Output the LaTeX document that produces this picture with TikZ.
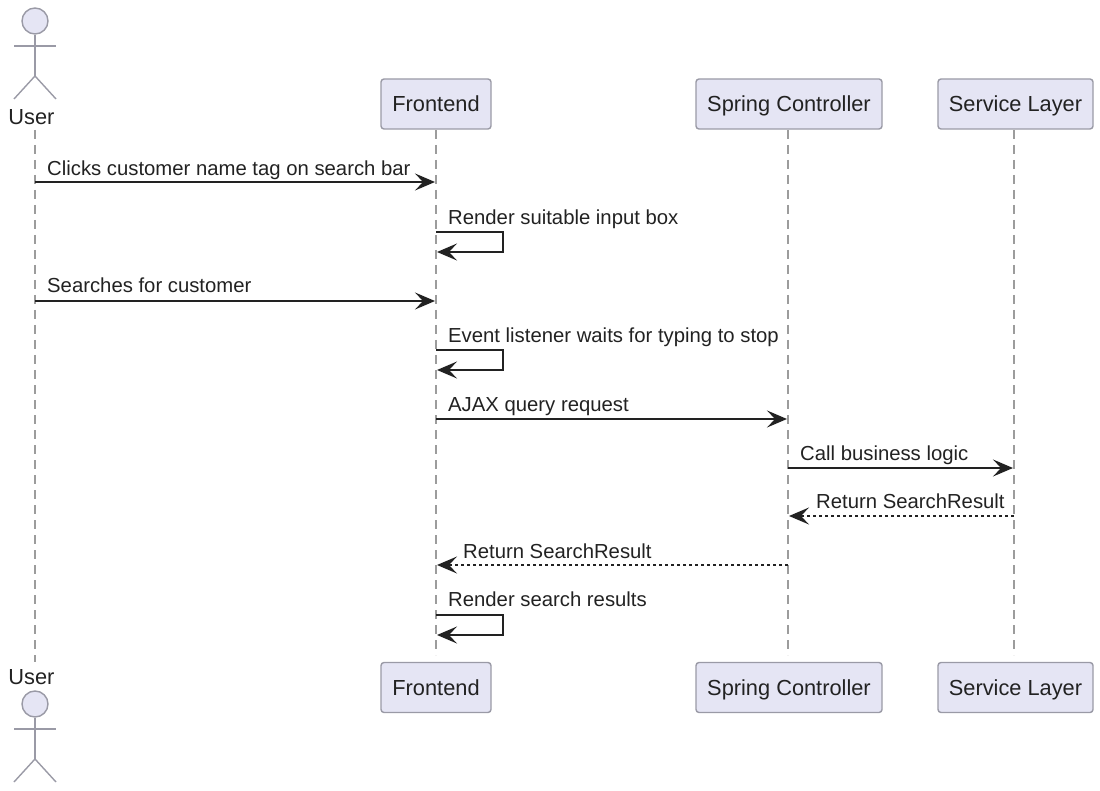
\documentclass[tikz,border=0pt]{standalone}
\usepackage{fontspec}
\setmainfont{Liberation Sans}
\usetikzlibrary{arrows.meta}
\definecolor{boxfill}{HTML}{E5E5F4}
\definecolor{boxline}{HTML}{9A9AA6}
\definecolor{lifeline}{HTML}{9C9C9C}
\definecolor{ink}{HTML}{222222}
\tikzset{
  box/.style={draw=boxline,fill=boxfill,line width=1.4pt,rounded corners=3pt,inner sep=0pt,text=ink,text height=20pt,text depth=4pt,font=\fontsize{21.8}{24}\selectfont},
  lbl/.style={anchor=base west,inner sep=0pt,text=ink,font=\fontsize{20.3}{24}\selectfont},
  actorlbl/.style={inner sep=0pt,text=ink,font=\fontsize{21.8}{24}\selectfont},
  limb/.style={draw=boxline,line width=1.4pt},
  life/.style={draw=lifeline,line width=1.1pt,dash pattern=on 9pt off 6pt},
  msg/.style={draw=ink,line width=1.5pt,-{Stealth[length=20pt,width=17pt,inset=8pt]}},
  ret/.style={msg,line width=1.3pt,dash pattern=on 3pt off 3pt}
}
\begin{document}
\begin{tikzpicture}[x=1pt,y=-1pt]
        \useasboundingbox (0,0) rectangle (1100,791);
        % participants
        \draw (436,104) node[box,minimum width=110pt,minimum height=50pt] (F) {Frontend};
        \draw (789,104) node[box,minimum width=186pt,minimum height=50pt] (S) {Spring Controller};
        \draw (1015.5,104) node[box,minimum width=155pt,minimum height=50pt] (L) {Service Layer};
        \draw (436,687.5) node[box,minimum width=110pt,minimum height=50pt] (F2) {Frontend};
        \draw (789,687.5) node[box,minimum width=186pt,minimum height=50pt] (S2) {Spring Controller};
        \draw (1015.5,687.5) node[box,minimum width=155pt,minimum height=50pt] (L2) {Service Layer};
        % actor on top
        \draw (35,21) node[circle,draw=boxline,fill=boxfill,line width=1.4pt,minimum size=26pt,inner sep=0pt] (H) {};
        \coordinate (Hip) at (35,76);
        \coordinate (ArmL) at (14,46);
        \coordinate (ArmR) at (56,46);
        \coordinate (FootL) at (14,99);
        \coordinate (FootR) at (56,99);
        \draw[limb] (H)--(Hip);
        \draw[limb] (ArmL)--(ArmR);
        \draw[limb] (FootL)--(Hip)--(FootR);
        \draw (31.5,117.5) node[actorlbl] (U) {User};
        % actor below
        \draw (31.5,677.5) node[actorlbl] (U2) {User};
        \draw (35,704) node[circle,draw=boxline,fill=boxfill,line width=1.4pt,minimum size=26pt,inner sep=0pt] (H2) {};
        \coordinate (Hip2) at (35,759);
        \coordinate (ArmL2) at (14,729);
        \coordinate (ArmR2) at (56,729);
        \coordinate (FootL2) at (14,782);
        \coordinate (FootR2) at (56,782);
        \draw[limb] (H2)--(Hip2);
        \draw[limb] (ArmL2)--(ArmR2);
        \draw[limb] (FootL2)--(Hip2)--(FootR2);
        % lifelines
        \coordinate (Utop) at (35,130);
        \coordinate (Ubot) at (35,662);
        \draw[life] (Utop)--(Ubot);
        \coordinate (Ftop) at (436,130);
        \coordinate (Fbot) at (436,655);
        \draw[life] (Ftop)--(Fbot);
        \coordinate (Stop) at (788,130);
        \coordinate (Sbot) at (788,655);
        \draw[life] (Stop)--(Sbot);
        \coordinate (Ltop) at (1014,130);
        \coordinate (Lbot) at (1014,655);
        \draw[life] (Ltop)--(Lbot);
        % message ends
        \coordinate (u1) at (35,182);
        \coordinate (f1) at (435,182);
        \coordinate (f2) at (436,232);
        \coordinate (c2) at (503,232);
        \coordinate (d2) at (503,252);
        \coordinate (g2) at (437,252);
        \coordinate (u3) at (35,301);
        \coordinate (f3) at (435,301);
        \coordinate (f4) at (436,350);
        \coordinate (c4) at (503,350);
        \coordinate (d4) at (503,370);
        \coordinate (g4) at (437,370);
        \coordinate (f5) at (436,419);
        \coordinate (s5) at (787,419);
        \coordinate (s6) at (788,468);
        \coordinate (l6) at (1013,468);
        \coordinate (l7) at (1014,516);
        \coordinate (s7) at (789,516);
        \coordinate (s8) at (788,565);
        \coordinate (f8) at (437,565);
        \coordinate (f9) at (436,615);
        \coordinate (c9) at (503,615);
        \coordinate (d9) at (503,635);
        \coordinate (g9) at (437,635);
        % messages
        \draw[msg] (u1)--(f1);
        \draw[msg] (f2)--(c2)--(d2)--(g2);
        \draw[msg] (u3)--(f3);
        \draw[msg] (f4)--(c4)--(d4)--(g4);
        \draw[msg] (f5)--(s5);
        \draw[msg] (s6)--(l6);
        \draw[ret] (l7)--(s7);
        \draw[ret] (s8)--(f8);
        \draw[msg] (f9)--(c9)--(d9)--(g9);
        % message labels
        \draw (47,175.5) node[lbl] (t1) {Clicks customer name tag on search bar};
        \draw (448,224.5) node[lbl] (t2) {Render suitable input box};
        \draw (47,292.5) node[lbl] (t3) {Searches for customer};
        \draw (448,342.5) node[lbl] (t4) {Event listener waits for typing to stop};
        \draw (448,411) node[lbl] (t5) {AJAX query request};
        \draw (800,460) node[lbl] (t6) {Call business logic};
        \draw (816,508) node[lbl] (t7) {Return SearchResult};
        \draw (463,558) node[lbl] (t8) {Return SearchResult};
        \draw (448,606.5) node[lbl] (t9) {Render search results};
        \end{tikzpicture}
\end{document}
